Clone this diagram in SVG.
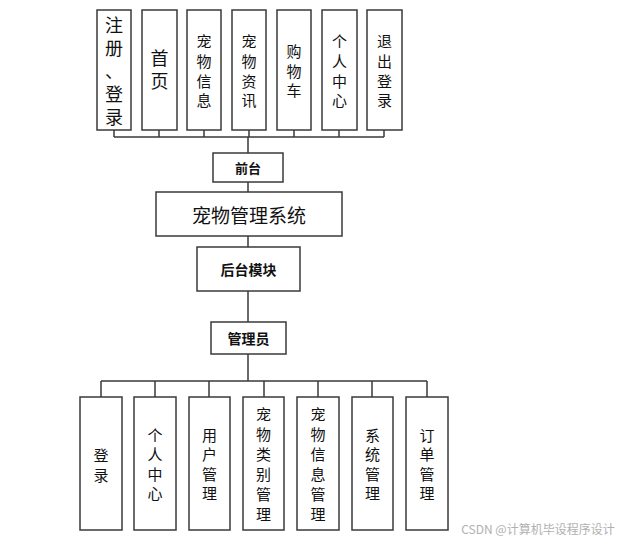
<svg xmlns="http://www.w3.org/2000/svg" width="619" height="540" viewBox="0 0 619 540">
<style>
.box{fill:#fff;stroke:#3a3a3a;stroke-width:1.5}
.ln{fill:none;stroke:#3a3a3a;stroke-width:1.5}
text{font-family:"Microsoft YaHei","Noto Sans CJK SC",sans-serif;fill:#111;text-anchor:middle;dominant-baseline:central}
.v{font-size:15px}
.big{font-size:18px}
.b{font-weight:bold;font-size:13px}
</style>
<rect width="619" height="540" fill="#fff"/>
<g id="connectors">
<path class="ln" d="M114 130V137M159 130V137M204 130V137M249 130V137M294 130V137M339 130V137M384 130V137M114 137H384"/>
<path class="ln" d="M248 137V153M248 182V192M248 236V247M248 291V322M248 354V381"/>
<path class="ln" d="M101 381H427M101 381V397M155 381V397M209 381V397M264 381V397M318 381V397M372 381V397M427 381V397"/>
</g>
<g id="n-register"><rect class="box" x="97" y="10" width="34" height="120"/><text class="big" x="114"><tspan x="114" y="24">注</tspan><tspan x="114" y="47">册</tspan><tspan x="114" y="70">、</tspan><tspan x="114" y="93">登</tspan><tspan x="114" y="116">录</tspan></text></g>
<g id="n-home"><rect class="box" x="142" y="10" width="35" height="120"/><text class="big" x="159.5"><tspan x="159.5" y="57">首</tspan><tspan x="159.5" y="80">页</tspan></text></g>
<g id="n-petinfo"><rect class="box" x="187" y="10" width="34" height="120"/><text class="v"><tspan x="204" y="40">宠</tspan><tspan x="204" y="60">物</tspan><tspan x="204" y="79.5">信</tspan><tspan x="204" y="99">息</tspan></text></g>
<g id="n-petnews"><rect class="box" x="232" y="10" width="34" height="120"/><text class="v"><tspan x="249" y="40">宠</tspan><tspan x="249" y="60">物</tspan><tspan x="249" y="79.5">资</tspan><tspan x="249" y="99">讯</tspan></text></g>
<g id="n-cart"><rect class="box" x="277" y="10" width="34" height="120"/><text class="v"><tspan x="294" y="50">购</tspan><tspan x="294" y="69.5">物</tspan><tspan x="294" y="89">车</tspan></text></g>
<g id="n-center"><rect class="box" x="322" y="10" width="35" height="120"/><text class="v"><tspan x="339.5" y="40">个</tspan><tspan x="339.5" y="60">人</tspan><tspan x="339.5" y="79.5">中</tspan><tspan x="339.5" y="99">心</tspan></text></g>
<g id="n-logout"><rect class="box" x="367" y="10" width="35" height="120"/><text class="v"><tspan x="384.5" y="40">退</tspan><tspan x="384.5" y="60">出</tspan><tspan x="384.5" y="79.5">登</tspan><tspan x="384.5" y="99">录</tspan></text></g>
<g id="n-front"><rect class="box" x="213" y="153" width="70" height="29"/><text class="b" x="248" y="167.5">前台</text></g>
<g id="n-system"><rect class="box" x="156" y="192" width="186" height="44"/><text x="249" y="214" style="font-size:19px">宠物管理系统</text></g>
<g id="n-back"><rect class="box" x="197" y="247" width="103" height="44"/><text class="b" x="248.5" y="269" style="font-size:14px">后台模块</text></g>
<g id="n-admin"><rect class="box" x="211" y="322" width="75" height="32"/><text class="b" x="248.5" y="338" style="font-size:14px">管理员</text></g>
<g id="n-login"><rect class="box" x="80" y="397" width="42" height="133"/><text class="v"><tspan x="101" y="453.5">登</tspan><tspan x="101" y="473.5">录</tspan></text></g>
<g id="n-ucenter"><rect class="box" x="134" y="397" width="42" height="133"/><text class="v"><tspan x="155" y="433.5">个</tspan><tspan x="155" y="453">人</tspan><tspan x="155" y="472.5">中</tspan><tspan x="155" y="492">心</tspan></text></g>
<g id="n-user"><rect class="box" x="189" y="397" width="41" height="133"/><text class="v"><tspan x="209.5" y="433.5">用</tspan><tspan x="209.5" y="453">户</tspan><tspan x="209.5" y="472.5">管</tspan><tspan x="209.5" y="492">理</tspan></text></g>
<g id="n-category"><rect class="box" x="243" y="397" width="41" height="133"/><text class="v"><tspan x="263.5" y="413">宠</tspan><tspan x="263.5" y="433">物</tspan><tspan x="263.5" y="453">类</tspan><tspan x="263.5" y="473">别</tspan><tspan x="263.5" y="493">管</tspan><tspan x="263.5" y="513">理</tspan></text></g>
<g id="n-petmgr"><rect class="box" x="297" y="397" width="42" height="133"/><text class="v"><tspan x="318" y="413">宠</tspan><tspan x="318" y="433">物</tspan><tspan x="318" y="453">信</tspan><tspan x="318" y="473">息</tspan><tspan x="318" y="493">管</tspan><tspan x="318" y="513">理</tspan></text></g>
<g id="n-sysmgr"><rect class="box" x="352" y="397" width="41" height="133"/><text class="v"><tspan x="372.5" y="433.5">系</tspan><tspan x="372.5" y="453">统</tspan><tspan x="372.5" y="472.5">管</tspan><tspan x="372.5" y="492">理</tspan></text></g>
<g id="n-order"><rect class="box" x="406" y="397" width="42" height="133"/><text class="v"><tspan x="427" y="433.5">订</tspan><tspan x="427" y="453">单</tspan><tspan x="427" y="472.5">管</tspan><tspan x="427" y="492">理</tspan></text></g>
<text x="538" y="528" style="font-size:12px;fill:#b0b0b0">CSDN @计算机毕设程序设计</text>
</svg>
